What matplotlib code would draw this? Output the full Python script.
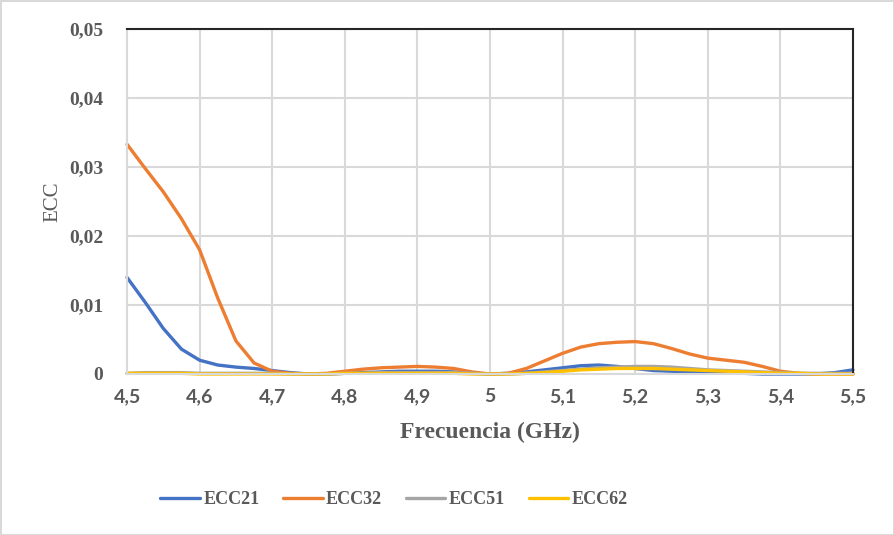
import numpy as np
import matplotlib
matplotlib.use("Agg")
import matplotlib.pyplot as plt

# frequency grid (GHz)
freq = [4.5, 4.525, 4.55, 4.575, 4.6, 4.625, 4.65, 4.675, 4.7, 4.725,
        4.75, 4.775, 4.8, 4.825, 4.85, 4.875, 4.9, 4.925, 4.95, 4.975,
        5.0, 5.025, 5.05, 5.075, 5.1, 5.125, 5.15, 5.175, 5.2, 5.225,
        5.25, 5.275, 5.3, 5.325, 5.35, 5.375, 5.4, 5.425, 5.45, 5.475, 5.5]

ecc21 = [0.0140, 0.0104, 0.0066, 0.0036, 0.0020, 0.0013, 0.0010, 0.0008, 0.0005, 0.0002,
         0.0, 0.0, 0.0001, 0.0002, 0.0003, 0.0004, 0.0004, 0.0004, 0.0003, 0.0001,
         0.0, 0.0001, 0.0003, 0.0006, 0.0009, 0.0012, 0.0013, 0.0011, 0.0008, 0.0005,
         0.0004, 0.0003, 0.0003, 0.0002, 0.0001, 0.0, 0.0, 0.0, 0.0, 0.0002, 0.0006]

ecc32 = [0.0333, 0.0298, 0.0264, 0.0225, 0.0180, 0.0110, 0.0048, 0.0016, 0.0004, 0.0001,
         0.0, 0.0001, 0.0004, 0.0007, 0.0009, 0.0010, 0.0011, 0.0010, 0.0008, 0.0003,
         0.0, 0.0001, 0.0008, 0.0019, 0.0030, 0.0039, 0.0044, 0.0046, 0.0047, 0.0044,
         0.0037, 0.0029, 0.0023, 0.0020, 0.0017, 0.0011, 0.0004, 0.0001, 0.0, 0.0, 0.0]

ecc51 = [0.0001, 0.0002, 0.0002, 0.0002, 0.0001, 0.0001, 0.0001, 0.0001, 0.0001, 0.0,
         0.0, 0.0, 0.0001, 0.0001, 0.0002, 0.0002, 0.0002, 0.0002, 0.0002, 0.0001,
         0.0, 0.0, 0.0001, 0.0003, 0.0005, 0.0007, 0.0009, 0.0010, 0.0011, 0.0011,
         0.0010, 0.0008, 0.0006, 0.0005, 0.0004, 0.0003, 0.0002, 0.0001, 0.0001, 0.0001, 0.0001]

ecc62 = [0.0001, 0.0001, 0.0001, 0.0001, 0.0, 0.0, 0.0, 0.0, 0.0, 0.0,
         0.0, 0.0, 0.0001, 0.0001, 0.0001, 0.0001, 0.0001, 0.0001, 0.0001, 0.0,
         0.0, 0.0, 0.0001, 0.0002, 0.0004, 0.0006, 0.0007, 0.0008, 0.0008, 0.0008,
         0.0007, 0.0006, 0.0005, 0.0004, 0.0003, 0.0002, 0.0001, 0.0001, 0.0, 0.0, 0.0]

xticks = [4.5, 4.6, 4.7, 4.8, 4.9, 5.0, 5.1, 5.2, 5.3, 5.4, 5.5]
xticklabels = ["4,5", "4,6", "4,7", "4,8", "4,9", "5", "5,1", "5,2", "5,3", "5,4", "5,5"]
yticks = [0, 0.01, 0.02, 0.03, 0.04, 0.05]
yticklabels = ["0", "0,01", "0,02", "0,03", "0,04", "0,05"]

TEXT = "#595959"
GRID = "#d9d9d9"

fig = plt.figure(figsize=(8.94, 5.35), dpi=100)
fig.patch.set_edgecolor(GRID)
fig.patch.set_linewidth(2)
ax = fig.add_axes([127 / 894, 1 - 374 / 535, (853 - 127) / 894, (374 - 29) / 535])

series = [
    (ecc21, "ECC21", "#4472C4"),
    (ecc32, "ECC32", "#ED7D31"),
    (ecc51, "ECC51", "#A5A5A5"),
    (ecc62, "ECC62", "#FFC000"),
]
for vals, name, col in series:
    ax.plot(freq, vals, color=col, lw=2.4, label=name, clip_on=False,
            solid_capstyle="round", solid_joinstyle="round")

ax.set_xlim(4.5, 5.5)
ax.set_ylim(0, 0.05)
ax.set_xticks(xticks)
ax.set_xticklabels(xticklabels, family="Lato", fontweight="bold", fontsize=14, color=TEXT)
ax.set_yticks(yticks)
ax.set_yticklabels(yticklabels, family="Liberation Serif", fontweight="bold", fontsize=14, color=TEXT)
ax.tick_params(length=0)
ax.tick_params(axis="y", pad=17)
ax.tick_params(axis="x", pad=10)
ax.grid(True, color=GRID, lw=1.5)
ax.set_axisbelow(True)

for s in ["left", "bottom"]:
    ax.spines[s].set_color(GRID)
    ax.spines[s].set_linewidth(1.5)
for s in ["top", "right"]:
    ax.spines[s].set_color("#262626")
    ax.spines[s].set_linewidth(1.5)

ax.set_xlabel("Frecuencia (GHz)", family="Liberation Serif", fontweight="bold",
              fontsize=17, color=TEXT, labelpad=12)
ax.set_ylabel("ECC", family="Liberation Serif", fontsize=15, color=TEXT, labelpad=5)

fig.legend(loc="center", bbox_to_anchor=(394 / 894, 1 - 500 / 535), ncol=4, frameon=False,
           handlelength=2.2, handletextpad=0.2, columnspacing=1.3,
           prop={"family": "Liberation Serif", "weight": "bold", "size": 13},
           labelcolor=TEXT)

fig.savefig("out.png", dpi=100)
